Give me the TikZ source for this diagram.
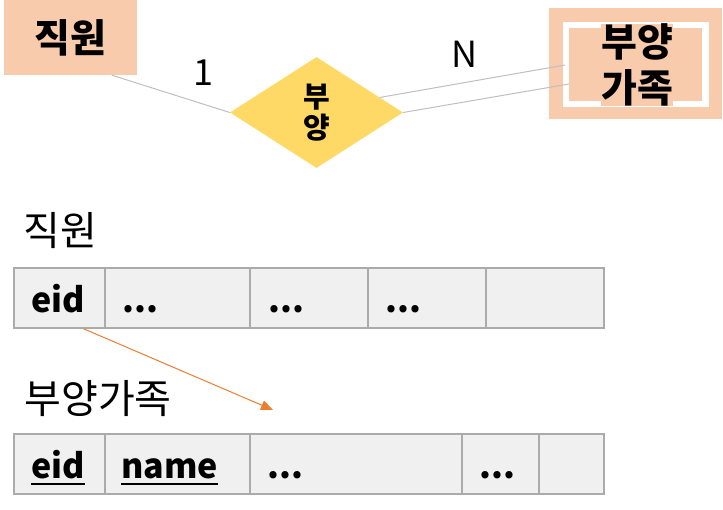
\documentclass[tikz,border=0pt]{standalone}
\usepackage{fontspec}
\setmainfont{Noto Sans CJK KR}
\usetikzlibrary{shapes.geometric,arrows.meta,calc}
\definecolor{peach}{HTML}{F8CBAD}
\definecolor{ryellow}{HTML}{FFD966}
\definecolor{cellfill}{HTML}{F0F0F0}
\definecolor{cellline}{HTML}{ABABAB}
\definecolor{connc}{HTML}{BFBFBF}
\definecolor{fkorange}{HTML}{ED7D31}
\tikzset{
 entity/.style={fill=peach, draw=none, inner sep=0pt, font=\fontsize{39}{46}\selectfont\bfseries, align=center},
 rel/.style={diamond, fill=ryellow, inner sep=0pt, minimum width=173pt, minimum height=111pt, font=\fontsize{29}{31}\selectfont\bfseries, align=center},
 connline/.style={draw=connc, line width=1pt},
 card/.style={font=\fontsize{36}{36}\selectfont, inner sep=0pt},
 titletext/.style={font=\fontsize{40}{40}\selectfont, inner sep=0pt},
 cell/.style={draw=cellline, fill=cellfill, line width=1.5pt, minimum height=60pt, inner sep=0pt},
 celltext/.style={anchor=base west, inner sep=0pt, font=\fontsize{34}{34}\selectfont\bfseries},
 dotstext/.style={anchor=base west, inner sep=0pt, font=\fontsize{34}{34}\selectfont\bfseries},
 fk/.style={draw=fkorange, line width=1pt, -{Triangle[length=12pt,width=10pt]}},
}
\begin{document}
\begin{tikzpicture}[x=1pt,y=-1pt]
\useasboundingbox (0,0) rectangle (723,510);
% ER part
\node[entity, minimum width=133pt, minimum height=75pt] (emp) at (70.5,37.5) {직원};
\node[rel] (dia) at (316.5,112.5) {부\\양};
\node[entity, minimum width=173pt, minimum height=111pt] (dep) at (635.5,63.5) {};
\draw[white, line width=6.5pt] (566,25) rectangle (705.5,104);
\node[entity] (deptext) at (637,65) {부양\\가족};
\coordinate (dupA) at (565,65);
\coordinate (dupB) at (569,84);
\draw[connline] ($(emp.south west)!0.81!(emp.south east)$) -- (dia.west);
\draw[connline] ($(dia.east)!0.27!(dia.north)$) -- (dupA);
\draw[connline] (dia.east) -- (dupB);
\node[card] (one) at (203,73) {1};
\node[card] (many) at (465,54) {N};
% relational tables
\node[titletext] (t1) at (60,231) {직원};
\node[titletext] (t2) at (98,399) {부양가족};
% table 1
\node[cell, minimum width=91pt] (e1) at (59.5,298) {};
\node[cell, minimum width=145pt] (e2) at (177.5,298) {};
\node[cell, minimum width=118pt] (e3) at (309,298) {};
\node[cell, minimum width=118pt] (e4) at (427,298) {};
\node[cell, minimum width=118pt] (e5) at (545,298) {};
\node[celltext] (e1t) at (31,313) {eid};
\node[dotstext] (e2t) at (122,313) {...};
\node[dotstext] (e3t) at (268,313) {...};
\node[dotstext] (e4t) at (385,313) {...};
% table 2
\node[cell, minimum width=91pt] (d1) at (59.5,464) {};
\node[cell, minimum width=145pt] (d2) at (177.5,464) {};
\node[cell, minimum width=212pt] (d3) at (356,464) {};
\node[cell, minimum width=77pt] (d4) at (500.5,464) {};
\node[cell, minimum width=65pt] (d5) at (571.5,464) {};
\node[celltext] (d1t) at (31,478) {eid};
\node[celltext] (d2t) at (121,478) {name};
\node[dotstext] (d3t) at (267,478) {...};
\node[dotstext] (d4t) at (479,478) {...};
\draw[line width=2pt] ($(d1t.base west)+(0,6)$) -- ($(d1t.base east)+(0,6)$);
\draw[line width=2pt] ($(d2t.base west)+(0,6)$) -- ($(d2t.base east)+(0,6)$);
% foreign key arrow
\coordinate (fkend) at (273,410);
\draw[fk] ($(e1.south west)!0.76!(e1.south east)$) -- (fkend);
\end{tikzpicture}
\end{document}
